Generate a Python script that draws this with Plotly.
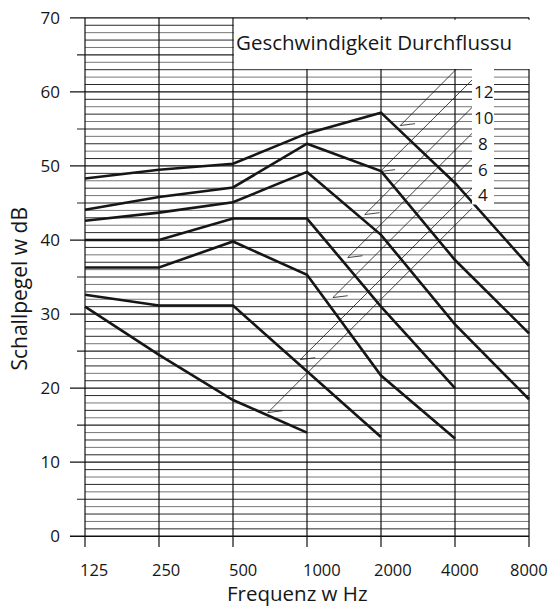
import plotly.graph_objects as go

# ---------------- data ----------------
freq_labels = ["125", "250", "500", "1000", "2000", "4000", "8000"]
y_tick_vals = [0, 10, 20, 30, 40, 50, 60, 70]

# sound level (dB) per frequency band for each flow speed curve (top -> bottom)
curve_16 = [48.3, 49.5, 50.3, 54.4, 57.2, 47.7, 36.5]
curve_14 = [44.1, 45.8, 47.1, 53.0, 49.3, 37.3, 27.4]
curve_12 = [42.6, 43.7, 45.1, 49.2, 40.7, 28.6, 18.5]
curve_10 = [40.0, 40.0, 42.9, 42.9, 31.0, 20.0, None]
curve_8 = [36.3, 36.3, 39.8, 35.3, 21.7, 13.2, None]
curve_6 = [32.6, 31.15, 31.15, 22.3, 13.4, None, None]
curve_4 = [31.0, 24.5, 18.4, 14.0, None, None, None]
curves = [curve_16, curve_14, curve_12, curve_10, curve_8, curve_6, curve_4]

# leader lines: point on curve (band index, dB) -> point at label column
leader_x0 = [4.26, 3.99, 3.78, 3.55, 3.35, 2.91, 2.47]
leader_y0 = [55.46, 49.25, 43.44, 37.63, 32.23, 23.86, 16.7]
leader_x1 = [5.23, 5.23, 5.23, 5.23, 5.23, 5.23, 5.23]
leader_y1 = [65.2, 61.6, 57.9, 54.4, 51.0, 47.0, 44.3]

speed_labels = ["12", "10", "8", "6", "4"]
legend_title = "Geschwindigkeit Durchflussu"
x_title = "Frequenz w Hz"
y_title = "Schallpegel w dB"

# ---------------- figure ----------------
FONT = "Open Sans"
INK = "#161616"
fig = go.Figure()

x_idx = list(range(len(freq_labels)))
for c in curves:
    fig.add_trace(go.Scatter(x=x_idx, y=c, mode="lines",
                             line=dict(color=INK, width=2.6),
                             connectgaps=False, hoverinfo="skip",
                             showlegend=False))

for x0, y0, x1, y1 in zip(leader_x0, leader_y0, leader_x1, leader_y1):
    fig.add_trace(go.Scatter(x=[x0 + 0.2, x0, x1], y=[y0 + 0.25, y0, y1],
                             mode="lines", line=dict(color=INK, width=0.8),
                             hoverinfo="skip", showlegend=False))

shapes = []
xmin, xmax = 0, len(freq_labels) - 1
ymax = y_tick_vals[-1]
for v in range(0, ymax + 1):
    if v % 10 == 0:
        shapes.append(dict(type="line", xref="x", yref="y", x0=xmin - 0.2027, x1=xmax,
                           y0=v, y1=v, line=dict(color="#111", width=1.3), layer="below"))
    elif v % 5 == 0:
        shapes.append(dict(type="line", xref="x", yref="y", x0=xmin - 0.108, x1=xmax,
                           y0=v, y1=v, line=dict(color="#222", width=1.1), layer="below"))
    else:
        col = "#2a2a2a" if v % 2 else "#777"
        shapes.append(dict(type="line", xref="x", yref="y", x0=xmin, x1=xmax,
                           y0=v, y1=v, line=dict(color=col, width=1), layer="below"))
for i in x_idx:
    shapes.append(dict(type="line", xref="x", yref="y", x0=i, x1=i,
                       y0=-1.45, y1=ymax, line=dict(color="#111", width=1.2), layer="below"))

# white boxes for legend title and speed labels
shapes.append(dict(type="rect", xref="x", yref="y", x0=2.012, x1=6.2, y0=63.1, y1=69.75,
                   fillcolor="white", line=dict(width=0), layer="above"))
shapes.append(dict(type="rect", xref="x", yref="y", x0=5.23, x1=5.527, y0=44.8, y1=63.2,
                   fillcolor="white", line=dict(width=0), layer="above"))

annotations = []
annotations.append(dict(x=2, y=66.8, xref="x", yref="y", text=legend_title,
                        xanchor="left", yanchor="middle", xshift=1, showarrow=False,
                        font=dict(family=FONT, size=20.5, color=INK)))
for k, lab in enumerate(speed_labels):
    annotations.append(dict(x=5.38, y=60.0 - k * 3.47, xref="x", yref="y", text=lab,
                            xanchor="center", yanchor="middle", showarrow=False,
                            font=dict(family=FONT, size=17, color=INK)))

x_label_shift = [9, 6.5, 10, 14.5, 11.6, 4.6, 0]
for i, lab in enumerate(freq_labels):
    annotations.append(dict(x=i, y=0, xref="x", yref="paper", text=lab,
                            xanchor="center", yanchor="middle", xshift=x_label_shift[i],
                            yshift=-22, showarrow=False,
                            font=dict(family=FONT, size=16.5, color=INK)))
annotations.append(dict(x=0.5, y=0, xref="paper", yref="paper", text=x_title,
                        xanchor="center", yanchor="middle", xshift=-5, yshift=-46,
                        showarrow=False, font=dict(family=FONT, size=20.5, color=INK)))
annotations.append(dict(x=0, y=0.5, xref="paper", yref="paper", text=y_title,
                        xanchor="center", yanchor="middle", xshift=-52, yshift=-8,
                        textangle=-90, showarrow=False,
                        font=dict(family=FONT, size=21, color=INK)))

fig.update_layout(
    width=552, height=607,
    margin=dict(l=70, r=17, t=16, b=60, autoexpand=False),
    paper_bgcolor="white", plot_bgcolor="white",
    shapes=shapes, annotations=annotations,
    xaxis=dict(range=[-0.2027, 6.081], showgrid=False, zeroline=False, automargin=False,
               showticklabels=False, ticks="", showline=False, fixedrange=True),
    yaxis=dict(range=[-1.45, 70.25], showgrid=False, zeroline=False, automargin=False,
               tickvals=y_tick_vals, ticks="", ticklabelstandoff=9,
               tickfont=dict(family=FONT, size=17, color=INK),
               showline=False, fixedrange=True),
    showlegend=False,
)

# remove the default 8px page margin so the figure fills the window exactly
fig.write_html("out.html",
               config={"displayModeBar": False},
               post_script="document.body.style.margin='0';document.body.style.overflow='hidden';")
